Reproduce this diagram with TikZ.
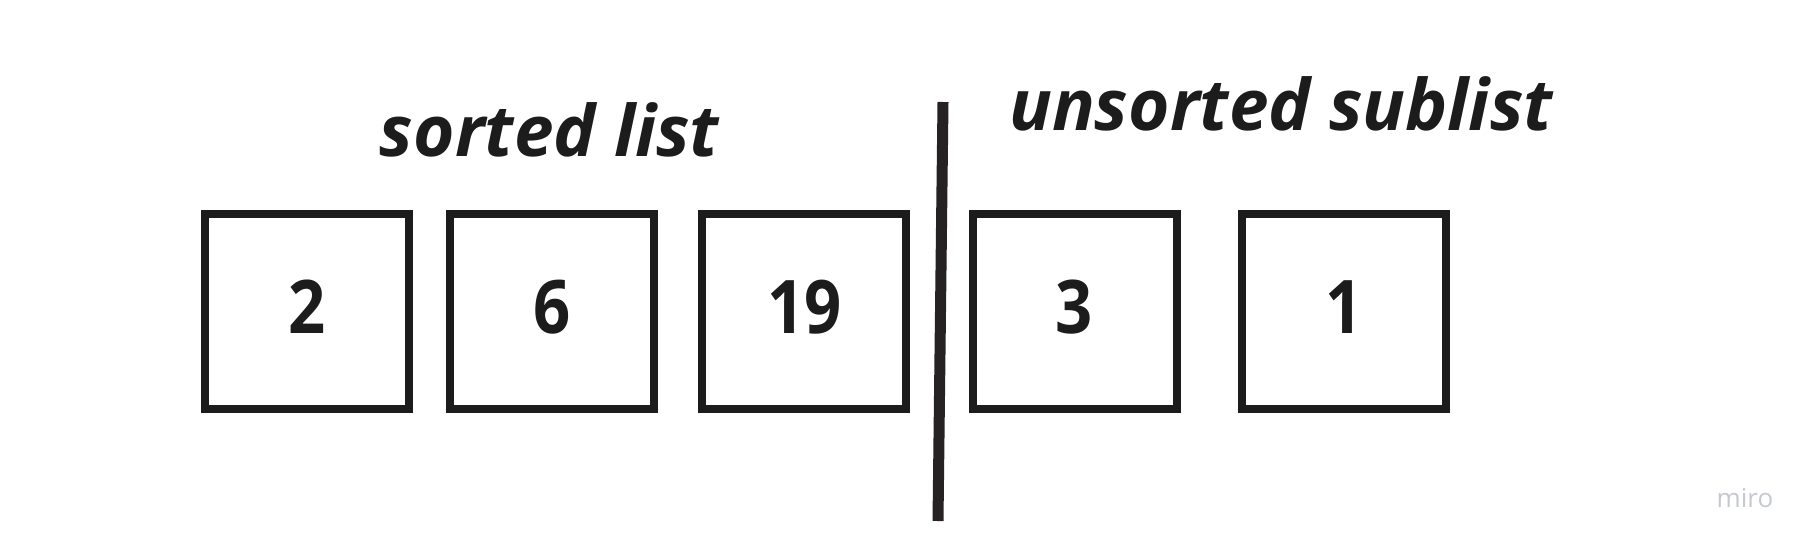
\documentclass[tikz,border=0pt]{standalone}
\usepackage{fontspec}
\setmainfont{Open Sans}
\newfontfamily\digitfont[FakeStretch=0.88]{Open Sans}
\definecolor{ink}{HTML}{1C1C1C}
\definecolor{divcol}{HTML}{262223}
\definecolor{miro}{HTML}{C6C8D1}
\begin{document}
\begin{tikzpicture}[x=1pt,y=-1pt,
  cell/.style={draw=ink,line width=8pt,minimum width=204pt,minimum height=195pt,inner sep=0pt,
    font=\digitfont\fontsize{74}{74}\selectfont\bfseries,text=ink,text depth=9pt},
  heading/.style={font=\fontsize{71}{71}\selectfont\bfseries\itshape,text=ink,anchor=base,inner sep=0pt}]
\useasboundingbox (0,0) rectangle (1816,550);
\node[cell] (c1) at (306.9,311.5) {2};
\node[cell] (c2) at (551.6,311.5) {6};
\node[cell] (c3) at (804.4,311.5) {19};
\node[cell] (c4) at (1074.5,311.5) {3};
\node[cell] (c5) at (1344.4,311.5) {1};
\node[heading] (sorted) at (549.5,156) {sorted list};
\node[heading] (unsorted) at (1281,130) {unsorted sublist};
\coordinate (dtop) at (943,102);
\coordinate (dbot) at (938,521);
\draw[divcol,line width=11pt] (dtop) -- (dbot);
\node[font=\fontsize{26}{26}\selectfont,text=miro,anchor=base,inner sep=0pt] (logo) at (1745,507) {miro};
\end{tikzpicture}
\end{document}
